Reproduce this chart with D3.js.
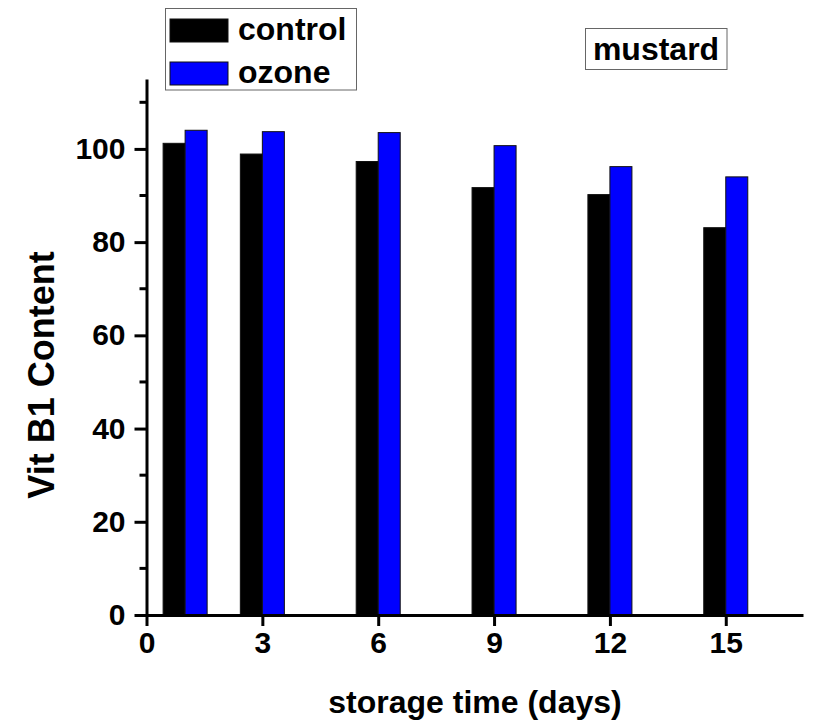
<!DOCTYPE html>
<html>
<head>
<meta charset="utf-8">
<script src="https://cdn.jsdelivr.net/npm/d3@7"></script>
<style>
  html, body { margin: 0; padding: 0; background: #fff; }
  svg { display: block; font-family: "Liberation Sans", Arial, sans-serif; font-weight: bold; }
</style>
</head>
<body>
<svg id="chart" width="813" height="724"></svg>
<script>
// Storage days and vitamin B1 content for each treatment
const days = [1, 3, 6, 9, 12, 15];
const control = [101.2, 98.9, 97.3, 91.7, 90.2, 83.1];
const ozone = [104.0, 103.7, 103.5, 100.7, 96.2, 94.0];
const xTicks = [0, 3, 6, 9, 12, 15];
const yTicks = [0, 20, 40, 60, 80, 100];
const yMinorTicks = [10, 30, 50, 70, 90, 110];
const seriesNames = ["control", "ozone"];
const seriesColors = ["#000000", "#0000ff"];
const panelLabel = "mustard";

const svg = d3.select("#chart");

const x = d3.scaleLinear().domain([0, 17]).range([146.5, 803]);
const y = d3.scaleLinear().domain([0, 115]).range([615, 79]);
const barW = 0.57; // bar width in days

// bars: control to the left of each day, ozone to the right
const series = [control, ozone];
series.forEach((vals, si) => {
  svg.append("g").selectAll("rect")
    .data(days.map((d, i) => ({ d, v: vals[i] })))
    .join("rect")
    .attr("x", p => si === 0 ? x(p.d - barW) : x(p.d))
    .attr("width", x(barW) - x(0))
    .attr("y", p => y(p.v))
    .attr("height", p => y(0) - y(p.v))
    .attr("fill", seriesColors[si])
    .attr("stroke", "#111")
    .attr("stroke-width", 1);
});

// x axis
const xAxis = svg.append("g")
  .attr("transform", `translate(0,${y(0)})`)
  .call(d3.axisBottom(x).tickValues(xTicks).tickSize(11).tickPadding(6).tickSizeOuter(0));
xAxis.select(".domain").attr("stroke-width", 3);
xAxis.selectAll(".tick line").attr("stroke-width", 3);
xAxis.selectAll(".tick text").attr("font-size", 30).attr("font-weight", "bold")
  .attr("font-family", "Liberation Sans, Arial, sans-serif").attr("fill", "#000");

// y axis
const yAxis = svg.append("g")
  .attr("transform", `translate(${x(0)},0)`)
  .call(d3.axisLeft(y).tickValues(yTicks).tickSize(12).tickPadding(9).tickSizeOuter(0));
yAxis.select(".domain").attr("stroke-width", 3);
yAxis.selectAll(".tick line").attr("stroke-width", 3);
yAxis.selectAll(".tick text").attr("font-size", 30).attr("font-weight", "bold")
  .attr("font-family", "Liberation Sans, Arial, sans-serif").attr("fill", "#000");

svg.append("g").selectAll("line")
  .data(yMinorTicks)
  .join("line")
  .attr("x1", x(0) - 7).attr("x2", x(0))
  .attr("y1", d => y(d)).attr("y2", d => y(d))
  .attr("stroke", "#000").attr("stroke-width", 3);

// axis titles
svg.append("text")
  .attr("x", 475).attr("y", 713)
  .attr("text-anchor", "middle")
  .attr("font-size", 32)
  .text("storage time (days)");

svg.append("text")
  .attr("transform", "translate(54,375) rotate(-90)")
  .attr("text-anchor", "middle")
  .attr("font-size", 36)
  .text("Vit B1 Content");

// legend
const legend = svg.append("g");
legend.append("rect")
  .attr("x", 165.5).attr("y", 8.5).attr("width", 191).attr("height", 81.5)
  .attr("fill", "#fff").attr("stroke", "#666").attr("stroke-width", 1);
seriesNames.forEach((name, i) => {
  const top = i === 0 ? 19 : 62;
  legend.append("rect")
    .attr("x", 170).attr("y", top).attr("width", 58).attr("height", 23)
    .attr("fill", seriesColors[i]).attr("stroke", "#111").attr("stroke-width", 1);
  legend.append("text")
    .attr("x", 238).attr("y", top + 21)
    .attr("font-size", 32)
    .text(name);
});

// panel label
svg.append("rect")
  .attr("x", 585.5).attr("y", 28.5).attr("width", 141.5).attr("height", 41)
  .attr("fill", "#fff").attr("stroke", "#666").attr("stroke-width", 1);
svg.append("text")
  .attr("x", 656).attr("y", 60)
  .attr("text-anchor", "middle")
  .attr("font-size", 32)
  .text(panelLabel);
</script>
</body>
</html>
